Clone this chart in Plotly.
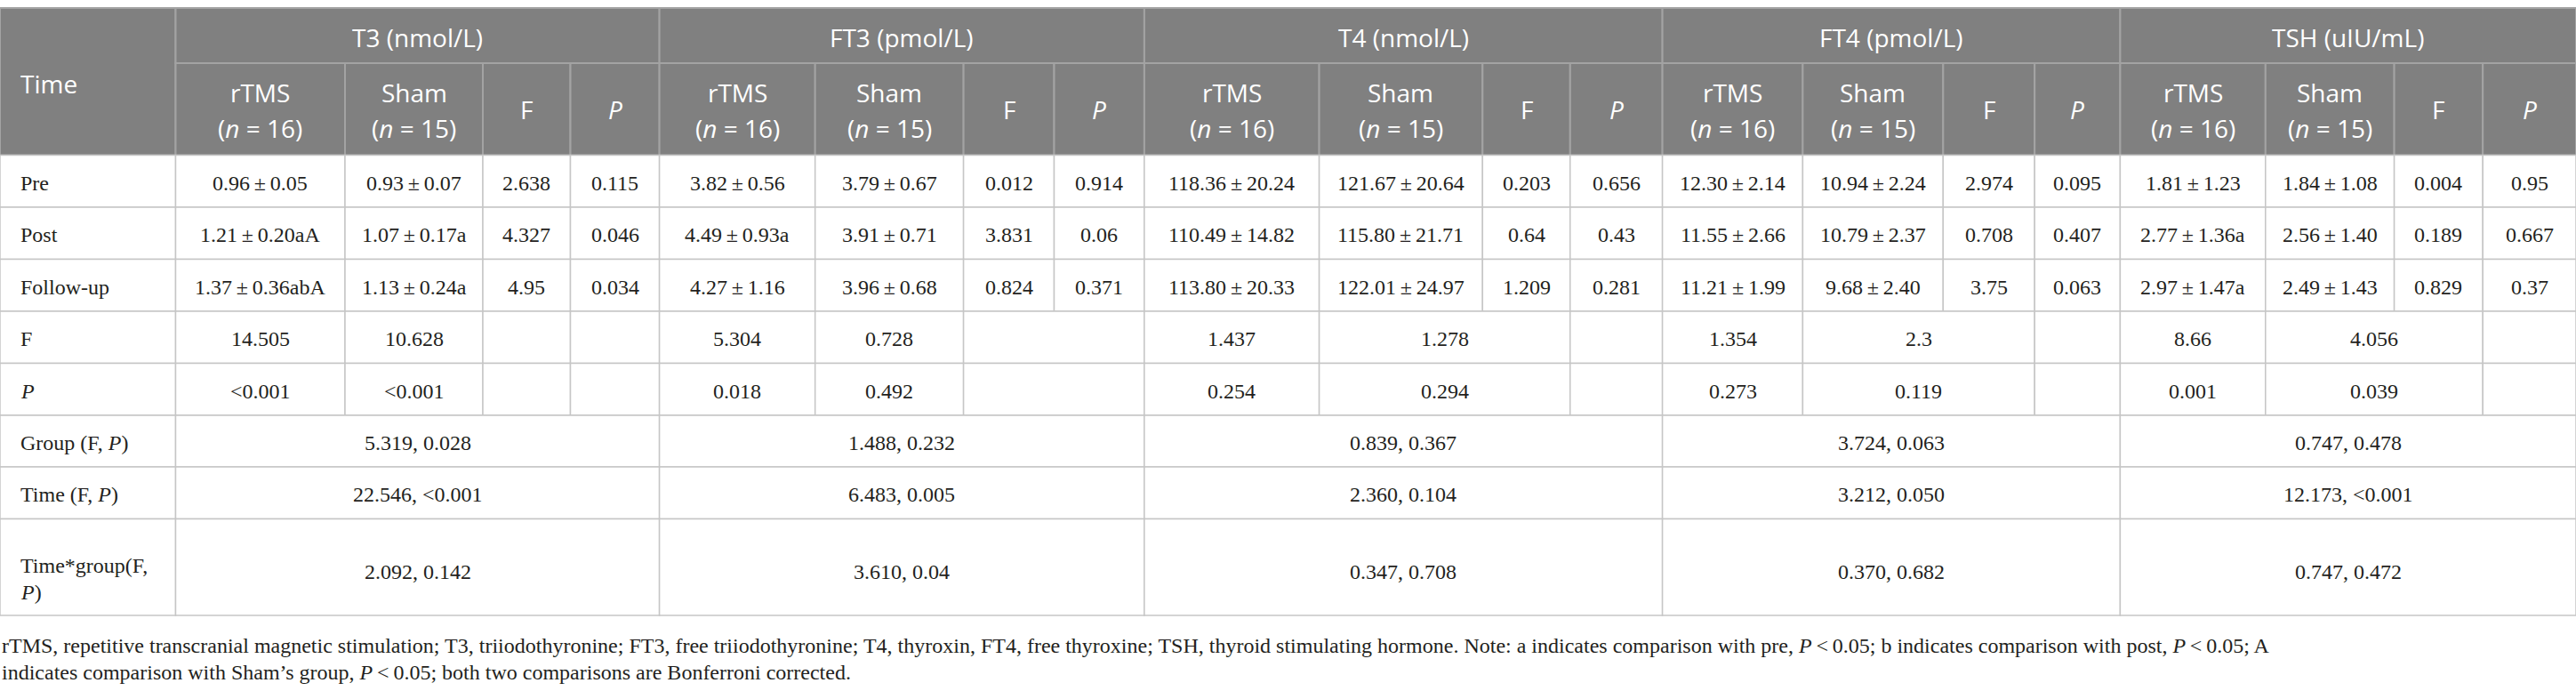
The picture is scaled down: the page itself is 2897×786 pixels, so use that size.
import plotly.graph_objects as go

# ---- data ----
hormones = ["T3 (nmol/L)", "FT3 (pmol/L)", "T4 (nmol/L)", "FT4 (pmol/L)", "TSH (uIU/mL)"]
time_points = ["Pre", "Post", "Follow-up"]
groups = ["rTMS", "Sham"]
group_n = ["16", "15"]

t3_rtms = ["0.96±0.05", "1.21±0.20aA", "1.37±0.36abA"]
t3_sham = ["0.93±0.07", "1.07±0.17a", "1.13±0.24a"]
t3_f = ["2.638", "4.327", "4.95"]
t3_p = ["0.115", "0.046", "0.034"]
t3_within_f = ["14.505", "10.628"]
t3_within_p = ["<0.001", "<0.001"]

ft3_rtms = ["3.82±0.56", "4.49±0.93a", "4.27±1.16"]
ft3_sham = ["3.79±0.67", "3.91±0.71", "3.96±0.68"]
ft3_f = ["0.012", "3.831", "0.824"]
ft3_p = ["0.914", "0.06", "0.371"]
ft3_within_f = ["5.304", "0.728"]
ft3_within_p = ["0.018", "0.492"]

t4_rtms = ["118.36±20.24", "110.49±14.82", "113.80±20.33"]
t4_sham = ["121.67±20.64", "115.80±21.71", "122.01±24.97"]
t4_f = ["0.203", "0.64", "1.209"]
t4_p = ["0.656", "0.43", "0.281"]
t4_within_f = ["1.437", "1.278"]
t4_within_p = ["0.254", "0.294"]

ft4_rtms = ["12.30±2.14", "11.55±2.66", "11.21±1.99"]
ft4_sham = ["10.94±2.24", "10.79±2.37", "9.68±2.40"]
ft4_f = ["2.974", "0.708", "3.75"]
ft4_p = ["0.095", "0.407", "0.063"]
ft4_within_f = ["1.354", "2.3"]
ft4_within_p = ["0.273", "0.119"]

tsh_rtms = ["1.81±1.23", "2.77±1.36a", "2.97±1.47a"]
tsh_sham = ["1.84±1.08", "2.56±1.40", "2.49±1.43"]
tsh_f = ["0.004", "0.189", "0.829"]
tsh_p = ["0.95", "0.667", "0.37"]
tsh_within_f = ["8.66", "4.056"]
tsh_within_p = ["0.001", "0.039"]

group_fp = ["5.319, 0.028", "1.488, 0.232", "0.839, 0.367", "3.724, 0.063", "0.747, 0.478"]
time_fp = ["22.546, <0.001", "6.483, 0.005", "2.360, 0.104", "3.212, 0.050", "12.173, <0.001"]
interaction_fp = ["2.092, 0.142", "3.610, 0.04", "0.347, 0.708", "0.370, 0.682", "0.747, 0.472"]

footnote = [
    "rTMS, repetitive transcranial magnetic stimulation; T3, triiodothyronine; FT3, free triiodothyronine; "
    "T4, thyroxin, FT4, free thyroxine; TSH, thyroid stimulating hormone. Note: a indicates comparison with pre, "
    "<i>P</i>\u2009<\u20090.05; b indicates comparison with post, <i>P</i>\u2009<\u20090.05; A",
    "indicates comparison with Sham\u2019s group, <i>P</i>\u2009<\u20090.05; both two comparisons are Bonferroni corrected.",
]

rtms_cols = [t3_rtms, ft3_rtms, t4_rtms, ft4_rtms, tsh_rtms]
sham_cols = [t3_sham, ft3_sham, t4_sham, ft4_sham, tsh_sham]
f_cols = [t3_f, ft3_f, t4_f, ft4_f, tsh_f]
p_cols = [t3_p, ft3_p, t4_p, ft4_p, tsh_p]
within_f = [t3_within_f, ft3_within_f, t4_within_f, ft4_within_f, tsh_within_f]
within_p = [t3_within_p, ft3_within_p, t4_within_p, ft4_within_p, tsh_within_p]

# ---- layout geometry (pixels) ----
W, H = 2897, 786
col_edges = [0, 197.5, 388, 543, 641.5, 741.6, 916.7, 1083.6, 1185.5, 1286.9,
             1483.6, 1667.3, 1765.8, 1869.6, 2027.4, 2185.3, 2288.2, 2384.4,
             2547.8, 2692.6, 2792.2, 2897]
row_edges = [9, 71, 174.5, 233, 291.5, 350, 408.5, 467, 525, 583.5, 692]
# how the 4 sub-columns merge in the within-group F / P rows
within_spans = [[1, 1, 1, 1], [1, 1, 2], [1, 2, 1], [1, 2, 1], [1, 2, 1]]

HEAD_BG = "#808080"
HEAD_LINE = "#a3a3a3"
GRID = "#c6c6c6"
INK = "#231f20"
head_font = dict(family="Open Sans", size=28, color="white")
body_font = dict(family="Liberation Serif", size=24, color=INK)

shapes = []
annotations = []


def rect(x0, x1, y0, y1, fill, line, width):
    shapes.append(dict(type="rect", xref="x", yref="y", x0=x0, x1=x1, y0=y0, y1=y1,
                       fillcolor=fill, line=dict(color=line, width=width), layer="below"))


def label(x, y, text, font, anchor="center"):
    annotations.append(dict(x=x, y=y, xref="x", yref="y", text=text, showarrow=False,
                            xanchor=anchor, yanchor="middle", font=font))


def fmt(v):
    return v.replace("±", "\u2009±\u2009")


# header
rect(col_edges[0], col_edges[1], row_edges[0], row_edges[2], HEAD_BG, HEAD_LINE, 2)
label(21, (row_edges[0] + row_edges[2]) / 2 + 2, "Time", head_font, "left")
for g, name in enumerate(hormones):
    c0 = 1 + 4 * g
    rect(col_edges[c0], col_edges[c0 + 4], row_edges[0], row_edges[1], HEAD_BG, HEAD_LINE, 2)
    label((col_edges[c0] + col_edges[c0 + 4]) / 2, (row_edges[0] + row_edges[1]) / 2 + 2, name, head_font)
    subs = [(groups[0], group_n[0]), (groups[1], group_n[1]), ("F", None), ("<i>P</i>", None)]
    for k, (s, n) in enumerate(subs):
        xa, xb = col_edges[c0 + k], col_edges[c0 + k + 1]
        rect(xa, xb, row_edges[1], row_edges[2], HEAD_BG, HEAD_LINE, 2)
        xm = (xa + xb) / 2
        if n is None:
            label(xm, (row_edges[1] + row_edges[2]) / 2, s, head_font)
        else:
            label(xm, row_edges[1] + 33, s, head_font)
            label(xm, row_edges[1] + 73, "(<i>n</i> = " + n + ")", head_font)

# body rows: Pre / Post / Follow-up
for r, tp in enumerate(time_points):
    y0, y1 = row_edges[2 + r], row_edges[3 + r]
    ym = (y0 + y1) / 2 + 2
    rect(col_edges[0], col_edges[1], y0, y1, "white", GRID, 1.5)
    label(21, ym, tp, body_font, "left")
    for g in range(len(hormones)):
        c0 = 1 + 4 * g
        vals = [rtms_cols[g][r], sham_cols[g][r], f_cols[g][r], p_cols[g][r]]
        for k, v in enumerate(vals):
            xa, xb = col_edges[c0 + k], col_edges[c0 + k + 1]
            rect(xa, xb, y0, y1, "white", GRID, 1.5)
            label((xa + xb) / 2, ym, fmt(v), body_font)

# within-group F / P rows
for r, (name, series) in enumerate([("F", within_f), ("<i>P</i>", within_p)]):
    y0, y1 = row_edges[5 + r], row_edges[6 + r]
    ym = (y0 + y1) / 2 + 2
    rect(col_edges[0], col_edges[1], y0, y1, "white", GRID, 1.5)
    label(21, ym, name, body_font, "left")
    for g in range(len(hormones)):
        c = 1 + 4 * g
        for k, span in enumerate(within_spans[g]):
            xa, xb = col_edges[c], col_edges[c + span]
            rect(xa, xb, y0, y1, "white", GRID, 1.5)
            if k < len(series[g]):
                label((xa + xb) / 2, ym, series[g][k], body_font)
            c += span

# model effects rows
effects = [("Group (F, <i>P</i>)", group_fp), ("Time (F, <i>P</i>)", time_fp),
           ("Time*group(F,", interaction_fp)]
for r, (name, series) in enumerate(effects):
    y0, y1 = row_edges[7 + r], row_edges[8 + r]
    ym = (y0 + y1) / 2 + 2
    rect(col_edges[0], col_edges[1], y0, y1, "white", GRID, 1.5)
    if r == 2:
        label(21, y0 + 52, name, body_font, "left")
        label(21, y0 + 82, "<i>P</i>)", body_font, "left")
        ym = (y0 + y1) / 2 + 5
    else:
        label(21, ym, name, body_font, "left")
    for g in range(len(hormones)):
        c0 = 1 + 4 * g
        xa, xb = col_edges[c0], col_edges[c0 + 4]
        rect(xa, xb, y0, y1, "white", GRID, 1.5)
        label((xa + xb) / 2, ym, series[g], body_font)

# footnote
foot_font = dict(family="Liberation Serif", size=24, color=INK)
for i, line in enumerate(footnote):
    label(0, 726 + 30 * i, line, foot_font, "left")

fig = go.Figure()
fig.update_layout(
    width=W, height=H,
    margin=dict(l=0, r=0, t=0, b=0),
    paper_bgcolor="white", plot_bgcolor="white",
    xaxis=dict(range=[0, W], visible=False, fixedrange=True),
    yaxis=dict(range=[H, 0], visible=False, fixedrange=True),
    shapes=shapes,
    annotations=annotations,
    showlegend=False,
)

fig.write_html("out.html", config={"displayModeBar": False},
               post_script="document.body.style.margin='0';document.body.style.overflow='hidden';")
